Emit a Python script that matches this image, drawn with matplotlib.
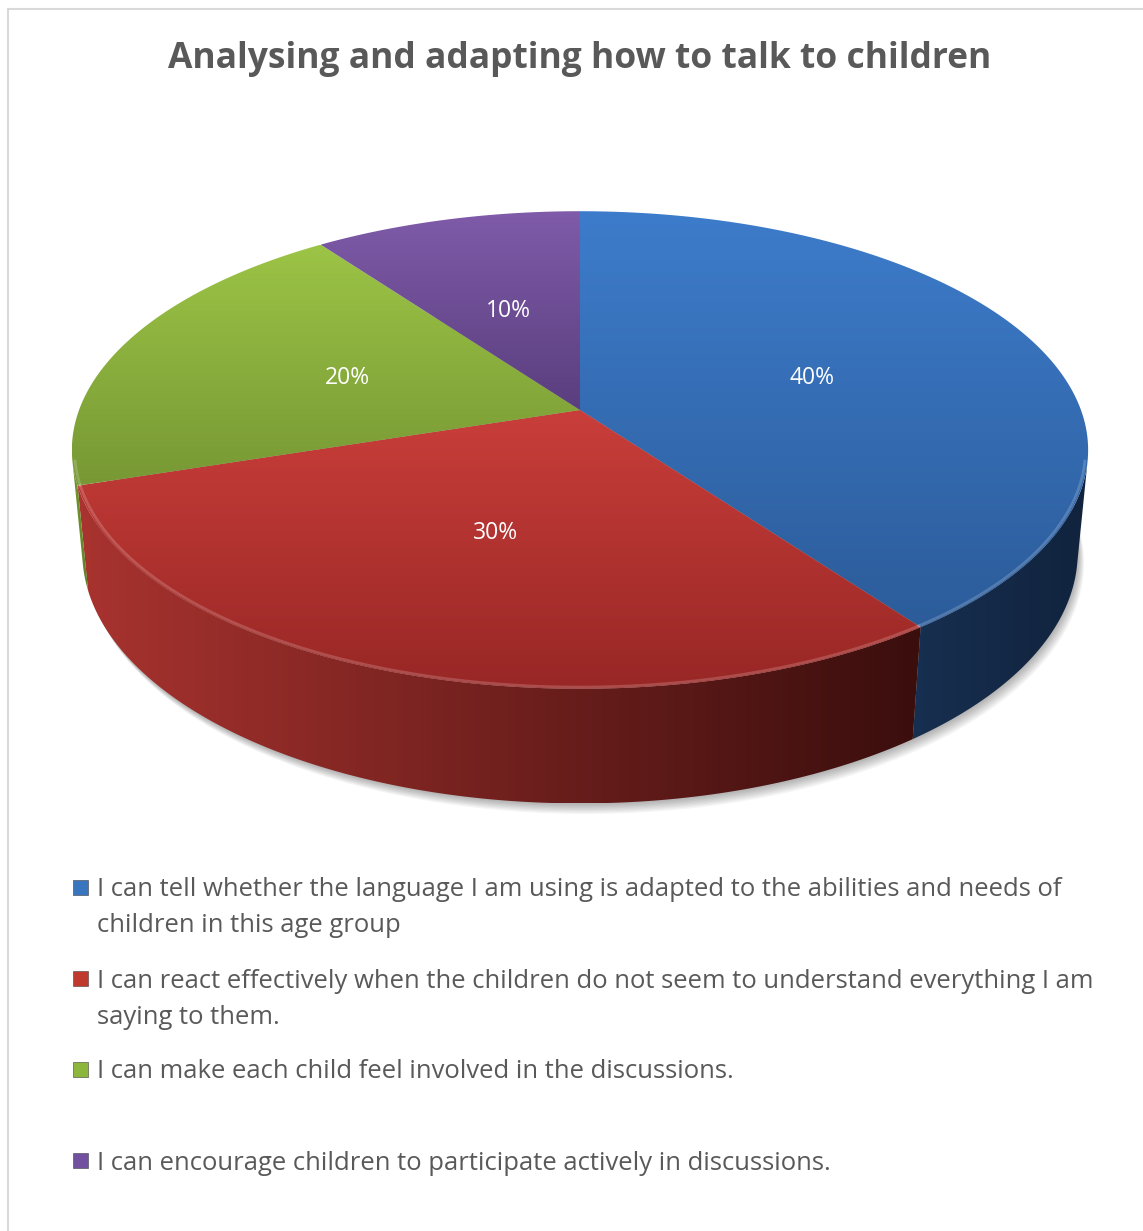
import numpy as np
import matplotlib
matplotlib.use("Agg")
import matplotlib.pyplot as plt
from matplotlib.patches import Polygon, Rectangle
from matplotlib.colors import LinearSegmentedColormap

# chart content
title = "Analysing and adapting how to talk to children"
shares = [40, 30, 20, 10]
pct_labels = ["40%", "30%", "20%", "10%"]
legend_lines = [
    ["I can tell whether the language I am using is adapted to the abilities and needs of",
     "children in this age group"],
    ["I can react effectively when the children do not seem to understand everything I am",
     "saying to them."],
    ["I can make each child feel involved in the discussions."],
    ["I can encourage children to participate actively in discussions."],
]

# face colours: (light, dark)
top_colors = [("#3d7ccb", "#2c5c9a"), ("#c93e3a", "#982725"),
              ("#9cc446", "#779834"), ("#7f5ba9", "#5a3e7e")]
wall_colors = [("#172f50", "#11233d"), ("#a8332f", "#3a0e0d"),
               ("#779a32", "#5f7d27"), ("#5a3e7e", "#3e2a58")]
marker_colors = ["#3a75c0", "#c0392f", "#8db63c", "#7150a0"]

W, H = 1143, 1231
FONT = "Open Sans"

# camera for the tilted pie (radius 1, top face at z=0)
ELEV = np.radians(27.6)
DIST = 5.29
THICK = 0.233
SCALE = 2650.0
CX, CY = 580.0, 410.0


def project(x, y, z):
    c, s = np.cos(ELEV), np.sin(ELEV)
    qx = x
    qy = y + DIST * c
    qz = z - DIST * s
    depth = qy * c - qz * s
    up = qy * s + qz * c
    return CX + SCALE * qx / depth, CY - SCALE * up / depth


def arc(a0, a1, z, r=1.0, n=200):
    phi = np.radians(np.linspace(a0, a1, n))
    return project(r * np.sin(phi), r * np.cos(phi), z)


def gradient_fill(ax, xy, c0, c1, direction="v", zorder=2):
    patch = Polygon(xy, closed=True, facecolor="none", edgecolor="none")
    ax.add_patch(patch)
    cmap = LinearSegmentedColormap.from_list("g", [c0, c1])
    g = np.linspace(0, 1, 256)
    img = g[:, None] if direction == "v" else g[None, :]
    x0, y0 = xy[:, 0].min(), xy[:, 1].min()
    x1, y1 = xy[:, 0].max(), xy[:, 1].max()
    im = ax.imshow(img, cmap=cmap, extent=(x0, x1, y1, y0), origin="upper",
                   aspect="auto", zorder=zorder, interpolation="bilinear")
    im.set_clip_path(patch)


fig = plt.figure(figsize=(W / 100, H / 100), dpi=100)
ax = fig.add_axes([0, 0, 1, 1])
ax.set_xlim(0, W)
ax.set_ylim(H, 0)
ax.axis("off")

# chart frame
ax.add_patch(Rectangle((7.5, 8.5), W + 20, H + 20, facecolor="white",
                       edgecolor="#d9d9d9", lw=1.5, zorder=0))

ax.text(580, 59, title, ha="center", va="center", fontsize=25.5,
        fontweight="bold", color="#595959", family=FONT)

# soft drop shadow below the pie
bx, by = arc(0, 360, -THICK)
for i in range(8):
    off = 1.5 + i * 1.3
    ax.add_patch(Polygon(np.column_stack([bx + off * 0.6, by + off]), closed=True,
                         facecolor="#000000", edgecolor="none", alpha=0.04, zorder=1))

# slice angles, clockwise from 12 o'clock
bounds = np.concatenate([[0], np.cumsum(shares)]) / sum(shares) * 360.0
vis_lo = np.degrees(np.arccos(-1.0 / (DIST * np.cos(ELEV))))
vis_hi = 360 - vis_lo

# outer walls facing the viewer
for i in range(len(shares)):
    a0, a1 = max(bounds[i], vis_lo), min(bounds[i + 1], vis_hi)
    if a1 <= a0:
        continue
    ux, uy = arc(a0, a1, 0)
    lx, ly = arc(a0, a1, -THICK)
    xy = np.column_stack([np.concatenate([ux, lx[::-1]]),
                          np.concatenate([uy, ly[::-1]])])
    gradient_fill(ax, xy, *wall_colors[i], direction="h", zorder=2)

# top faces
for i in range(len(shares)):
    ux, uy = arc(bounds[i], bounds[i + 1], 0)
    ox, oy = project(0.0, 0.0, 0.0)
    xy = np.column_stack([np.concatenate([[ox], ux]), np.concatenate([[oy], uy])])
    gradient_fill(ax, xy, *top_colors[i], direction="v", zorder=3)
    # bevel highlight on the front rim
    a0, a1 = max(bounds[i], vis_lo), min(bounds[i + 1], vis_hi)
    if a1 > a0:
        hx, hy = arc(a0, a1, 0, r=0.995)
        ax.plot(hx, hy, color="white", alpha=0.18, lw=2, zorder=4)

    mid = (bounds[i] + bounds[i + 1]) / 2
    lx, ly = project(0.5 * np.sin(np.radians(mid)), 0.5 * np.cos(np.radians(mid)), 0.0)
    ax.text(lx, ly + 3, pct_labels[i], ha="center", va="center", fontsize=16.5,
            color="white", family=FONT, zorder=5)

# legend
line_y = [[888, 924], [979, 1015], [1070], [1161]]
for i, lines in enumerate(legend_lines):
    y0 = line_y[i][0]
    ax.add_patch(Rectangle((73, y0 - 8), 15, 15, facecolor=marker_colors[i],
                           edgecolor="#404040", lw=0.4, zorder=3))
    for j, txt in enumerate(lines):
        ax.text(97, line_y[i][j] + 2, txt, ha="left", va="center", fontsize=18.45,
                color="#595959", family=FONT)

fig.savefig("out.png", dpi=100)
